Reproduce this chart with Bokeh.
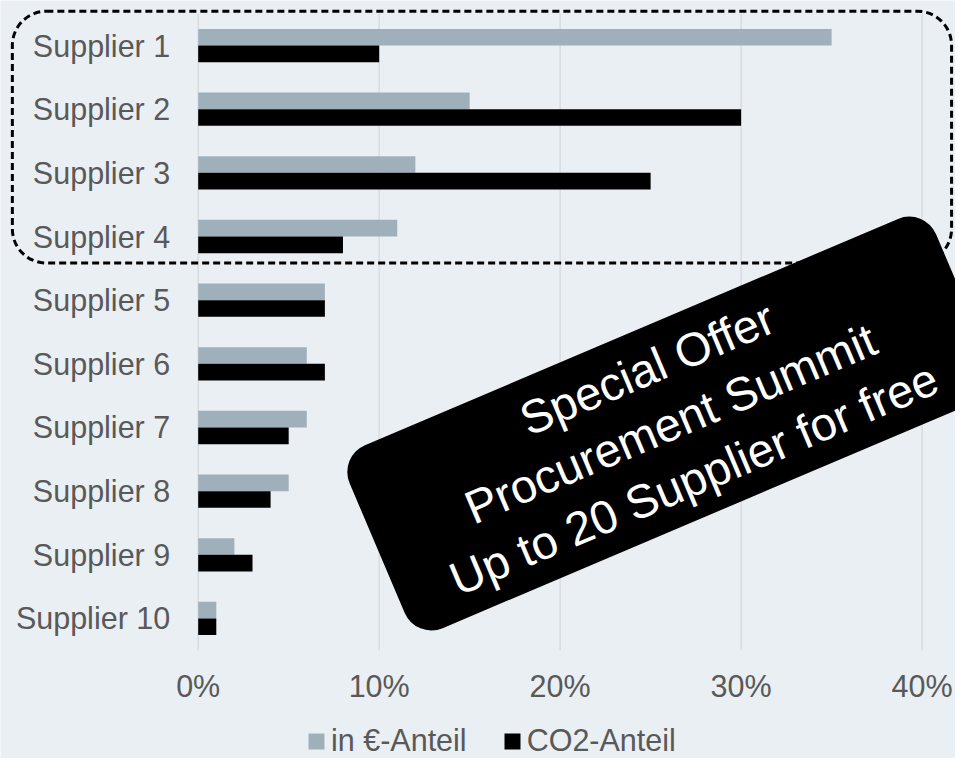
from bokeh.plotting import figure
from bokeh.models import (ColumnDataSource, Range1d, FixedTicker,
                          NumeralTickFormatter, Legend, LegendItem, Label, BoxAnnotation)
from bokeh.transform import dodge
from bokeh.embed import file_html
from bokeh.resources import INLINE

# ---- data ----
suppliers = ["Supplier 1", "Supplier 2", "Supplier 3", "Supplier 4", "Supplier 5",
             "Supplier 6", "Supplier 7", "Supplier 8", "Supplier 9", "Supplier 10"]
euro_share = [0.35, 0.15, 0.12, 0.11, 0.07, 0.06, 0.06, 0.05, 0.02, 0.01]
co2_share = [0.10, 0.30, 0.25, 0.08, 0.07, 0.07, 0.05, 0.04, 0.03, 0.01]
x_ticks = [0.0, 0.1, 0.2, 0.3, 0.4]
series_names = ["in €-Anteil", "CO2-Anteil"]
highlighted = ["Supplier 1", "Supplier 2", "Supplier 3", "Supplier 4"]
callout_lines = ["Special Offer", "Procurement Summit", "Up to 20 Supplier for free"]

# ---- style ----
BG = "#EAEFF3"
GREY = "#A0B0BA"
TEXT = "#595959"
FONT = "Liberation Sans"
FS = "30.5px"

n = len(suppliers)
# row centre of each supplier on the category axis (first supplier on top)
y_pos = [n - 0.5 - i for i in range(n)]

src = ColumnDataSource(dict(supplier=suppliers, y=y_pos, euro=euro_share, co2=co2_share))
grid_src = ColumnDataSource(dict(x=x_ticks, y0=[0] * len(x_ticks), y1=[n] * len(x_ticks)))

p = figure(width=955, height=758,
           x_range=Range1d(-0.10925, 0.41847),
           y_range=Range1d(-1.6997, 10.2073),
           output_backend="svg", toolbar_location=None,
           min_border_left=0, min_border_right=0, min_border_top=0, min_border_bottom=0,
           background_fill_color=BG, border_fill_color=BG, outline_line_color=None)

# vertical grid lines (only over the rows)
p.segment(x0="x", y0="y0", x1="x", y1="y1", source=grid_src,
          line_color="#D9DCDF", line_width=1.5)

r_euro = p.hbar(y=dodge("y", 0.1308), left=0, right="euro",
                height=0.2615, source=src, fill_color=GREY, line_color=None)
r_co2 = p.hbar(y=dodge("y", -0.1308), left=0, right="co2",
               height=0.2615, source=src, fill_color="black", line_color=None)

# axes
p.xaxis.ticker = FixedTicker(ticks=x_ticks, minor_ticks=[])
p.xaxis.formatter = NumeralTickFormatter(format="0%")
p.yaxis.ticker = FixedTicker(ticks=y_pos, minor_ticks=[])
p.yaxis.major_label_overrides = {y: s for y, s in zip(y_pos, suppliers)}
for ax in (p.xaxis[0], p.yaxis[0]):
    ax.axis_line_color = None
    ax.major_tick_line_color = None
    ax.minor_tick_line_color = None
    ax.major_tick_out = 0
    ax.major_tick_in = 0
    ax.minor_tick_out = 0
    ax.minor_tick_in = 0
    ax.major_label_text_font = FONT
    ax.major_label_text_font_size = FS
    ax.major_label_text_color = TEXT
p.xaxis.major_label_standoff = 19
p.xaxis.fixed_location = 0
p.yaxis.major_label_standoff = 28
p.yaxis.fixed_location = 0

p.xgrid.visible = False
p.ygrid.visible = False

# dashed highlight box around the top suppliers
top_idx = suppliers.index(highlighted[0])
bot_idx = suppliers.index(highlighted[-1])
box = BoxAnnotation(left=-0.1027, right=0.4163,
                    top=y_pos[top_idx] + 0.538, bottom=y_pos[bot_idx] - 0.416,
                    fill_alpha=0, line_color="black", line_alpha=1.0, line_width=3,
                    line_dash="7 4", border_radius=34)
p.add_layout(box)

# callout
callout = Label(x=0.2609, y=3.562, text="\n".join(callout_lines),
                angle=23, angle_units="deg", text_align="center", text_baseline="middle",
                text_color="white", text_font=FONT, text_font_size="47px", text_line_height=1.13,
                background_fill_color="black", background_fill_alpha=1.0,
                padding=dict(x=56, y=13), border_radius=29)
p.add_layout(callout)

legend = Legend(items=[LegendItem(label=series_names[0], renderers=[r_euro]),
                       LegendItem(label=series_names[1], renderers=[r_co2])],
                orientation="horizontal", location=(306, 0),
                glyph_width=20, glyph_height=20, label_standoff=5, spacing=35,
                padding=0, margin=0,
                label_text_font=FONT, label_text_font_size=FS, label_text_color=TEXT,
                background_fill_alpha=0, border_line_color=None)
p.add_layout(legend, "center")

open("out.html", "w").write(file_html(p, INLINE))
